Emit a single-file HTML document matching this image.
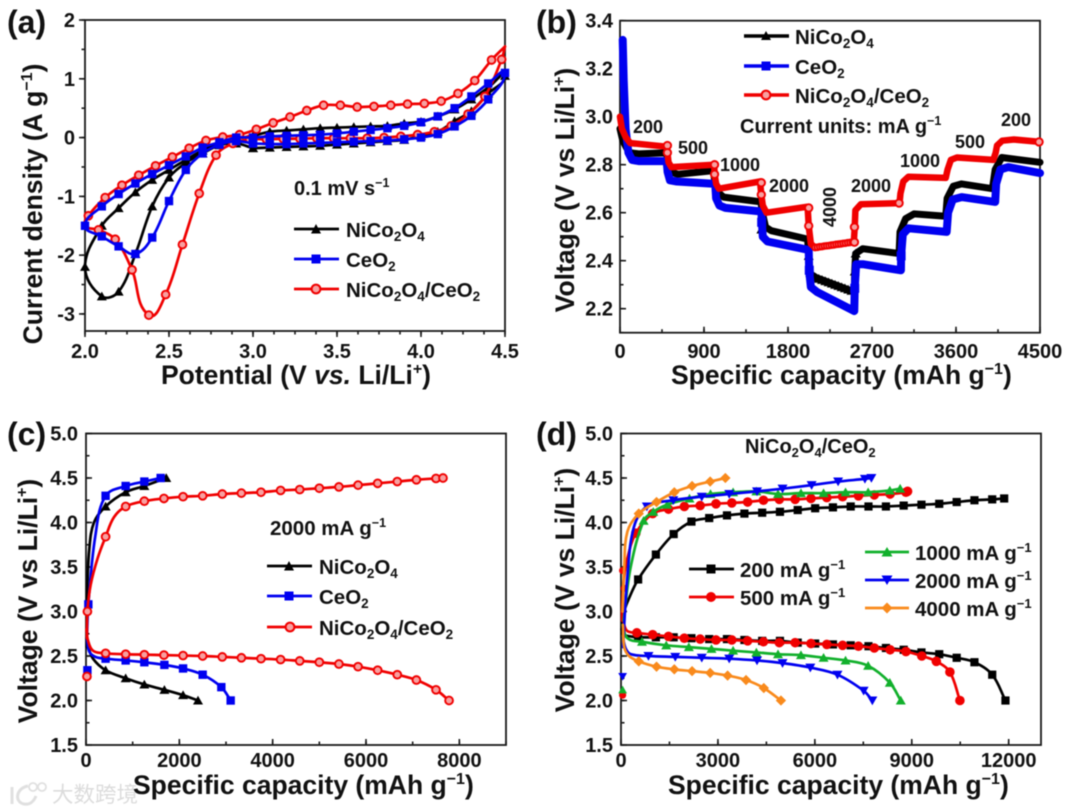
<!DOCTYPE html>
<html lang="en">
<head>
<meta charset="utf-8">
<title>NiCo2O4/CeO2 electrochemical performance</title>
<style>
html,body{margin:0;padding:0;background:#fff;}
svg{display:block;filter:blur(0.5px);}
text{font-family:"Liberation Sans","Noto Sans CJK SC",sans-serif;font-weight:bold;fill:#111;}
</style>
</head>
<body>
<svg id="fig" xmlns="http://www.w3.org/2000/svg" width="1080" height="812" viewBox="0 0 1080 812">
  <rect x="0" y="0" width="1080" height="812" fill="#ffffff"/>

  <g>
    <path d="M12 787 L12 804 M28 786 C16 788 14 802 24 804 C30 805 34 801 36 796" fill="none" stroke="#e0e0e0" stroke-width="3"/>
    <circle cx="33" cy="787" r="4" fill="none" stroke="#e0e0e0" stroke-width="1.8"/>
    <circle cx="42" cy="787" r="4" fill="none" stroke="#e0e0e0" stroke-width="1.8"/>
    <text x="52" y="802" font-size="21.5" style="fill:#dcdcdc;font-weight:normal">大数跨境</text>
  </g>

  <g id="panel-a">
    <text x="7" y="33" font-size="32">(a)</text>
    <text transform="translate(42,204) rotate(-90)" text-anchor="middle" font-size="26.5">Current density (A g<tspan dy="-10" font-size="16">−1</tspan><tspan dy="10">)</tspan></text>
    <text x="161" y="384" font-size="26.5">Potential (V <tspan font-style="italic">vs.</tspan> Li/Li<tspan dy="-10" font-size="16">+</tspan><tspan dy="10">)</tspan></text>
    <text x="294" y="195" font-size="20">0.1 mV s<tspan dy="-8" font-size="12.5">−1</tspan></text>
    <g>
      <line x1="294" x2="339" y1="229" y2="229" stroke="#000" stroke-width="2.8"/>
      <polygon points="311,233.5 316,224 321,233.5" fill="#000"/>
      <text x="346" y="237" font-size="20.5">NiCo<tspan dy="4" font-size="13.5">2</tspan><tspan dy="-4">O</tspan><tspan dy="4" font-size="13.5">4</tspan></text>
      <line x1="294" x2="339" y1="259" y2="259" stroke="#0000f0" stroke-width="2.8"/>
      <rect x="311.5" y="254.5" width="9" height="9" fill="#0000f0"/>
      <text x="346" y="267" font-size="20.5">CeO<tspan dy="4" font-size="13.5">2</tspan></text>
      <line x1="294" x2="339" y1="289" y2="289" stroke="#f00000" stroke-width="2.8"/>
      <circle cx="316" cy="289" r="4.4" fill="#f7a0a0" stroke="#f00000" stroke-width="2"/>
      <text x="346" y="297" font-size="20.5">NiCo<tspan dy="4" font-size="13.5">2</tspan><tspan dy="-4">O</tspan><tspan dy="4" font-size="13.5">4</tspan><tspan dy="-4">/CeO</tspan><tspan dy="4" font-size="13.5">2</tspan></text>
    </g>
  </g>

  <g id="panel-b">
    <text x="536" y="33" font-size="32">(b)</text>
    <text transform="translate(574,190) rotate(-90)" text-anchor="middle" font-size="26.5">Voltage (V vs Li/Li<tspan dy="-10" font-size="16">+</tspan><tspan dy="10">)</tspan></text>
    <text x="671" y="384" font-size="26.5">Specific capacity (mAh g<tspan dy="-10" font-size="16">−1</tspan><tspan dy="10">)</tspan></text>
    <g>
      <line x1="744" x2="789" y1="36" y2="36" stroke="#000" stroke-width="3.5"/>
      <polygon points="761,40 766,31 771,40" fill="#000"/>
      <text x="795" y="44" font-size="20.5">NiCo<tspan dy="4" font-size="13.5">2</tspan><tspan dy="-4">O</tspan><tspan dy="4" font-size="13.5">4</tspan></text>
      <line x1="744" x2="789" y1="66" y2="66" stroke="#0000f0" stroke-width="3.5"/>
      <rect x="761.5" y="61.5" width="9" height="9" fill="#0000f0"/>
      <text x="795" y="74" font-size="20.5">CeO<tspan dy="4" font-size="13.5">2</tspan></text>
      <line x1="744" x2="789" y1="95" y2="95" stroke="#f00000" stroke-width="3.5"/>
      <circle cx="766" cy="95" r="4.4" fill="#f7a0a0" stroke="#f00000" stroke-width="2"/>
      <text x="795" y="103" font-size="20.5">NiCo<tspan dy="4" font-size="13.5">2</tspan><tspan dy="-4">O</tspan><tspan dy="4" font-size="13.5">4</tspan><tspan dy="-4">/CeO</tspan><tspan dy="4" font-size="13.5">2</tspan></text>
    </g>
    <text x="740" y="133" font-size="20">Current units: mA g<tspan dy="-8" font-size="12.5">−1</tspan></text>
    <text x="633" y="133" font-size="18">200</text>
    <text x="678" y="154" font-size="18">500</text>
    <text x="720" y="171" font-size="18">1000</text>
    <text x="769" y="192" font-size="18">2000</text>
    <text transform="translate(836,207) rotate(-90)" text-anchor="middle" font-size="18">4000</text>
    <text x="851" y="192" font-size="18">2000</text>
    <text x="900" y="167" font-size="18">1000</text>
    <text x="955" y="148" font-size="18">500</text>
    <text x="1001" y="126" font-size="18">200</text>
  </g>

  <g id="panel-c">
    <text x="7" y="445" font-size="32">(c)</text>
    <text transform="translate(37,601) rotate(-90)" text-anchor="middle" font-size="26.5">Voltage (V vs Li/Li<tspan dy="-10" font-size="16">+</tspan><tspan dy="10">)</tspan></text>
    <text x="133" y="794" font-size="26.5">Specific capacity (mAh g<tspan dy="-10" font-size="16">−1</tspan><tspan dy="10">)</tspan></text>
    <text x="270" y="535" font-size="20.5">2000 mA g<tspan dy="-8" font-size="12.5">−1</tspan></text>
    <g>
      <line x1="267" x2="312" y1="566" y2="566" stroke="#000" stroke-width="2.8"/>
      <polygon points="284,570.5 289,561 294,570.5" fill="#000"/>
      <text x="319" y="574" font-size="20.5">NiCo<tspan dy="4" font-size="13.5">2</tspan><tspan dy="-4">O</tspan><tspan dy="4" font-size="13.5">4</tspan></text>
      <line x1="267" x2="312" y1="596" y2="596" stroke="#0000f0" stroke-width="2.8"/>
      <rect x="284.5" y="591.5" width="9" height="9" fill="#0000f0"/>
      <text x="319" y="604" font-size="20.5">CeO<tspan dy="4" font-size="13.5">2</tspan></text>
      <line x1="267" x2="312" y1="627" y2="627" stroke="#f00000" stroke-width="2.8"/>
      <circle cx="290" cy="627" r="4.4" fill="#f7a0a0" stroke="#f00000" stroke-width="2"/>
      <text x="319" y="635" font-size="20.5">NiCo<tspan dy="4" font-size="13.5">2</tspan><tspan dy="-4">O</tspan><tspan dy="4" font-size="13.5">4</tspan><tspan dy="-4">/CeO</tspan><tspan dy="4" font-size="13.5">2</tspan></text>
    </g>
  </g>

  <g id="panel-d">
    <text x="536" y="445" font-size="32">(d)</text>
    <text transform="translate(574,590) rotate(-90)" text-anchor="middle" font-size="26.5">Voltage (V vs Li/Li<tspan dy="-10" font-size="16">+</tspan><tspan dy="10">)</tspan></text>
    <text x="668" y="794" font-size="26.5">Specific capacity (mAh g<tspan dy="-10" font-size="16">−1</tspan><tspan dy="10">)</tspan></text>
    <text x="745" y="453" font-size="20">NiCo<tspan dy="4" font-size="13">2</tspan><tspan dy="-4">O</tspan><tspan dy="4" font-size="13">4</tspan><tspan dy="-4">/CeO</tspan><tspan dy="4" font-size="13">2</tspan></text>
    <g>
      <line x1="689" x2="734" y1="569" y2="569" stroke="#000" stroke-width="2.8"/>
      <rect x="706.5" y="564.5" width="9" height="9" fill="#000"/>
      <text x="740" y="577" font-size="20.5">200 mA g<tspan dy="-8" font-size="13">−1</tspan></text>
      <line x1="689" x2="734" y1="597" y2="597" stroke="#f00000" stroke-width="2.8"/>
      <circle cx="711" cy="597" r="5" fill="#f00000"/>
      <text x="740" y="605" font-size="20.5">500 mA g<tspan dy="-8" font-size="13">−1</tspan></text>
      <line x1="865" x2="909" y1="552" y2="552" stroke="#12b02c" stroke-width="2.8"/>
      <polygon points="881.5,556.5 887,547 892.5,556.5" fill="#12b02c"/>
      <text x="915" y="560" font-size="20.5">1000 mA g<tspan dy="-8" font-size="13">−1</tspan></text>
      <line x1="865" x2="909" y1="580" y2="580" stroke="#0000f0" stroke-width="2.8"/>
      <polygon points="881.5,575.5 887,585 892.5,575.5" fill="#0000f0"/>
      <text x="915" y="588" font-size="20.5">2000 mA g<tspan dy="-8" font-size="13">−1</tspan></text>
      <line x1="865" x2="909" y1="608" y2="608" stroke="#f98a1c" stroke-width="2.8"/>
      <polygon points="887,602.5 892.5,608 887,613.5 881.5,608" fill="#f98a1c"/>
      <text x="915" y="616" font-size="20.5">4000 mA g<tspan dy="-8" font-size="13">−1</tspan></text>
    </g>
  </g>
</svg>

<script>
// Panel (a) cyclic voltammetry: [potential, current density]
const aNiCo = [[3.0,-0.18],[3.1,-0.17],[3.2,-0.16],[3.3,-0.15],[3.4,-0.14],[3.5,-0.12],[3.6,-0.1],[3.7,-0.08],[3.8,-0.06],[3.9,-0.04],[4.0,0.03],[4.1,0.1],[4.2,0.28],[4.3,0.45],[4.4,0.75],[4.5,1.05],[4.4,0.85],[4.3,0.65],[4.2,0.48],[4.1,0.36],[4.0,0.27],[3.9,0.24],[3.8,0.2],[3.7,0.19],[3.6,0.18],[3.5,0.17],[3.4,0.16],[3.3,0.14],[3.2,0.12],[3.1,0.1],[3.0,0.03],[2.9,-0.02],[2.8,-0.1],[2.7,-0.22],[2.6,-0.38],[2.5,-0.55],[2.4,-0.72],[2.3,-0.93],[2.2,-1.2],[2.1,-1.5],[2.0,-2.2],[2.1,-2.7],[2.2,-2.62],[2.3,-1.98],[2.4,-1.17],[2.5,-0.68],[2.6,-0.43],[2.7,-0.27],[2.8,-0.13],[2.9,-0.1],[3.0,-0.18]];
const aCeO = [[3.0,-0.1],[3.1,-0.11],[3.2,-0.11],[3.3,-0.1],[3.4,-0.09],[3.5,-0.08],[3.6,-0.07],[3.7,-0.06],[3.8,-0.05],[3.9,-0.03],[4.0,0.0],[4.1,0.06],[4.2,0.19],[4.3,0.37],[4.4,0.65],[4.5,1.1],[4.4,0.92],[4.3,0.7],[4.2,0.5],[4.1,0.36],[4.0,0.26],[3.9,0.2],[3.8,0.16],[3.7,0.13],[3.6,0.1],[3.5,0.07],[3.4,0.05],[3.3,0.04],[3.2,0.03],[3.1,0.02],[3.0,0.0],[2.9,0.0],[2.8,-0.08],[2.7,-0.17],[2.6,-0.32],[2.5,-0.47],[2.4,-0.62],[2.3,-0.78],[2.2,-0.96],[2.1,-1.17],[2.0,-1.5],[2.1,-1.68],[2.2,-1.85],[2.3,-1.98],[2.4,-1.7],[2.5,-1.08],[2.6,-0.55],[2.7,-0.27],[2.8,-0.12],[2.9,-0.06],[3.0,-0.1]];
const aComposite = [[4.5,1.55],[4.42,1.32],[4.32,0.97],[4.22,0.75],[4.12,0.62],[4.02,0.58],[3.92,0.57],[3.82,0.55],[3.72,0.53],[3.62,0.52],[3.52,0.55],[3.42,0.55],[3.32,0.46],[3.22,0.35],[3.12,0.25],[3.02,0.14],[2.92,0.05],[2.82,0.01],[2.72,-0.05],[2.62,-0.18],[2.52,-0.33],[2.42,-0.48],[2.32,-0.64],[2.22,-0.81],[2.12,-1.02],[2.02,-1.33],[2.0,-1.5],[2.08,-1.57],[2.18,-1.73],[2.28,-2.25],[2.38,-3.02],[2.48,-2.67],[2.58,-1.82],[2.68,-0.95],[2.78,-0.3],[2.88,-0.1],[2.98,-0.03],[3.08,-0.03],[3.18,-0.02],[3.28,-0.02],[3.38,-0.01],[3.48,-0.01],[3.58,-0.01],[3.68,-0.01],[3.78,0],[3.88,0.02],[3.98,0.05],[4.08,0.1],[4.18,0.2],[4.28,0.4],[4.38,0.7],[4.48,1.33],[4.5,1.55]];
const aXTicks = [2,2.5,3,3.5,4,4.5];
const aXLabels = ['2.0','2.5','3.0','3.5','4.0','4.5'];
const aYTicks = [2,1,0,-1,-2,-3];
const aYLabels = ['2','1','0','-1','-2','-3'];

// Panel (b) rate capability: [capacity, voltage]
const bNiCo = [[0,2.95],[30,2.9],[70,2.87],[110,2.85],[200,2.845],[500,2.85],[515,2.8],[545,2.77],[620,2.76],[1000,2.775],[1020,2.72],[1050,2.685],[1110,2.665],[1510,2.645],[1525,2.6],[1560,2.54],[1620,2.525],[2010,2.49],[2022,2.42],[2040,2.345],[2100,2.33],[2510,2.27],[2515,2.36],[2525,2.43],[2600,2.45],[2990,2.43],[3000,2.52],[3060,2.575],[3150,2.595],[3490,2.585],[3505,2.66],[3570,2.71],[3660,2.72],[3990,2.7],[4020,2.78],[4090,2.83],[4500,2.81]];
const bCeO = [[29,3.32],[40,3.15],[60,2.95],[90,2.85],[130,2.82],[200,2.815],[500,2.815],[510,2.77],[535,2.735],[610,2.73],[1020,2.72],[1030,2.66],[1065,2.63],[1130,2.62],[1515,2.605],[1520,2.56],[1530,2.5],[1580,2.48],[2022,2.445],[2026,2.36],[2045,2.29],[2110,2.27],[2510,2.19],[2515,2.285],[2530,2.385],[2610,2.385],[3010,2.36],[3012,2.42],[3030,2.51],[3090,2.535],[3500,2.52],[3515,2.6],[3565,2.655],[3660,2.665],[4020,2.645],[4030,2.72],[4075,2.78],[4160,2.79],[4500,2.765]];
const bComposite = [[0,3.0],[20,2.95],[60,2.915],[110,2.89],[500,2.875],[508,2.85],[520,2.81],[550,2.79],[1010,2.8],[1013,2.76],[1030,2.72],[1060,2.7],[1500,2.73],[1514,2.675],[1530,2.63],[1570,2.6],[2010,2.625],[2022,2.545],[2045,2.47],[2090,2.455],[2505,2.477],[2515,2.54],[2522,2.61],[2580,2.635],[2995,2.64],[3005,2.68],[3035,2.73],[3090,2.75],[3490,2.745],[3510,2.78],[3545,2.82],[3610,2.83],[4000,2.82],[4025,2.85],[4040,2.88],[4095,2.9],[4220,2.905],[4500,2.895]];
const bCompositeStepMarkers = [[508,2.88],[508,2.85],[1013,2.8],[1013,2.76],[1514,2.725],[1514,2.675],[2022,2.62],[2022,2.545],[2512,2.54],[2512,2.477],[2990,2.64],[4490,2.895]];
const bComposite4000Markers = [[2090,2.455],[2115,2.456],[2140,2.458],[2165,2.459],[2190,2.461],[2215,2.462],[2240,2.463],[2265,2.465],[2290,2.466],[2315,2.468],[2340,2.469],[2365,2.47],[2390,2.472],[2415,2.473],[2440,2.475],[2465,2.476],[2490,2.477]];
const bCeOStepMarkers = [[1518,2.56],[2028,2.36],[2515,2.285],[3012,2.42]];
const bNiCoStepMarkers = [[1040,2.68],[1515,2.53],[2022,2.42],[2040,2.35],[2515,2.355],[2525,2.43],[3000,2.45]];
const bNiCo4000Markers = [[2060,2.335],[2095,2.33],[2130,2.325],[2165,2.32],[2200,2.315],[2235,2.31],[2270,2.305],[2305,2.3],[2340,2.295],[2375,2.29],[2410,2.285],[2445,2.28],[2480,2.275]];
const bXTicks = [0,900,1800,2700,3600,4500];
const bXLabels = ['0','900','1800','2700','3600','4500'];
const bYTicks = [2.2,2.4,2.6,2.8,3.0,3.2,3.4];
const bYLabels = ['2.2','2.4','2.6','2.8','3.0','3.2','3.4'];

// Panel (c) charge/discharge at 2000 mA/g: [capacity, voltage]
const cNiCoCharge = [[15,2.6],[25,3.2],[70,3.7],[170,4.0],[420,4.18],[850,4.34],[1250,4.41],[1720,4.5]];
const cNiCoDischarge = [[10,2.7],[50,2.6],[150,2.47],[420,2.34],[850,2.25],[1250,2.18],[1680,2.12],[2080,2.06],[2400,2.0]];
const cCeOCharge = [[20,2.7],[50,3.08],[200,3.85],[420,4.3],[850,4.41],[1250,4.46],[1600,4.5]];
const cCeODischarge = [[20,2.7],[70,2.55],[200,2.49],[420,2.47],[850,2.45],[1250,2.43],[1680,2.4],[2080,2.36],[2500,2.29],[2900,2.15],[3100,2.0]];
const cCompositeCharge = [[20,2.7],[30,3.0],[100,3.3],[250,3.6],[420,3.84],[600,4.06],[850,4.18],[1250,4.24],[1670,4.27],[2080,4.29],[2500,4.3],[2920,4.32],[3330,4.33],[3750,4.34],[4170,4.36],[4580,4.37],[5000,4.385],[5420,4.4],[5830,4.42],[6250,4.44],[6670,4.46],[7080,4.48],[7500,4.495],[7650,4.5]];
const cCompositeDischarge = [[10,2.8],[40,2.68],[150,2.56],[420,2.53],[850,2.52],[1250,2.515],[1670,2.51],[2080,2.505],[2500,2.5],[2920,2.49],[3330,2.48],[3750,2.47],[4170,2.46],[4580,2.445],[5000,2.43],[5420,2.41],[5830,2.38],[6250,2.34],[6670,2.29],[7080,2.23],[7500,2.12],[7780,2.0]];
const cCeOStartMarkers = [[30,2.34],[50,3.08]];
const cCompositeStartMarkers = [[20,2.27],[30,3.0]];
const cXTicks = [0,2000,4000,6000,8000];
const cXLabels = ['0','2000','4000','6000','8000'];
const cdYTicks = [1.5,2,2.5,3,3.5,4,4.5,5];
const cdYLabels = ['1.5','2.0','2.5','3.0','3.5','4.0','4.5','5.0'];

// Panel (d) composite at multiple rates: [capacity, voltage]
const d200Charge = [[30,2.75],[100,3.0],[250,3.15],[530,3.36],[1080,3.64],[1630,3.87],[2180,4.01],[2730,4.05],[3280,4.08],[3820,4.1],[4370,4.11],[4920,4.12],[5470,4.14],[6010,4.16],[6560,4.17],[7110,4.18],[7660,4.18],[8200,4.18],[8750,4.19],[9300,4.2],[9850,4.21],[10390,4.23],[10940,4.25],[11490,4.26],[11860,4.27]];
const d200Discharge = [[20,2.8],[100,2.74],[300,2.72],[530,2.71],[1080,2.71],[1630,2.71],[2180,2.7],[2730,2.69],[3280,2.69],[3820,2.68],[4370,2.67],[4920,2.67],[5470,2.65],[6010,2.64],[6560,2.63],[7110,2.62],[7660,2.61],[8200,2.59],[8750,2.57],[9300,2.54],[9850,2.52],[10390,2.48],[10940,2.43],[11490,2.29],[11900,2.0]];
const d500Charge = [[30,2.9],[70,3.3],[200,3.6],[460,3.88],[980,4.1],[1470,4.15],[1960,4.18],[2450,4.19],[2940,4.21],[3430,4.22],[3920,4.23],[4410,4.25],[4900,4.26],[5390,4.26],[5880,4.27],[6370,4.28],[6860,4.29],[7350,4.3],[7840,4.31],[8330,4.32],[8820,4.34],[8870,4.35]];
const d500Discharge = [[30,3.0],[100,2.85],[200,2.78],[490,2.76],[980,2.74],[1470,2.72],[1960,2.7],[2450,2.69],[2940,2.68],[3430,2.68],[3920,2.67],[4410,2.66],[4900,2.65],[5390,2.65],[5880,2.64],[6370,2.63],[6860,2.62],[7350,2.61],[7840,2.59],[8330,2.57],[8820,2.55],[9310,2.5],[9760,2.44],[10180,2.32],[10490,2.0]];
const d500StartMarkers = [[50,2.06],[100,3.26],[50,3.46]];
const d1000Charge = [[80,2.9],[300,3.5],[700,4.02],[1000,4.12],[1430,4.2],[2120,4.27],[2770,4.32],[3470,4.34],[4190,4.35],[4860,4.32],[5570,4.33],[6270,4.33],[6950,4.34],[7650,4.34],[8320,4.36],[8640,4.38]];
const d1000Discharge = [[50,2.85],[200,2.7],[650,2.66],[1400,2.62],[2100,2.6],[2800,2.58],[3470,2.56],[4190,2.54],[4860,2.52],[5570,2.51],[6270,2.48],[6950,2.45],[7650,2.39],[8320,2.2],[8660,2.0]];
const d1000StartMarkers = [[50,2.12]];
const d2000Charge = [[60,2.6],[200,3.4],[400,3.95],[800,4.18],[1620,4.25],[2500,4.29],[3350,4.32],[4210,4.35],[5000,4.38],[5900,4.42],[6720,4.46],[7550,4.49],[7750,4.5]];
const d2000Discharge = [[60,2.7],[150,2.58],[300,2.52],[850,2.5],[1680,2.49],[2500,2.48],[3350,2.47],[4210,2.45],[5000,2.42],[5860,2.37],[6700,2.29],[7510,2.11],[7780,2.0]];
const d2000StartMarkers = [[50,2.27]];
const d4000Charge = [[50,3.0],[100,3.5],[200,3.9],[550,4.1],[1100,4.23],[1650,4.34],[2200,4.41],[2760,4.46],[3230,4.5]];
const d4000Discharge = [[60,2.85],[100,2.6],[250,2.5],[550,2.44],[1100,2.38],[1650,2.35],[2200,2.33],[2760,2.31],[3300,2.28],[3870,2.23],[4420,2.14],[4950,2.0]];
const dXTicks = [0,3000,6000,9000,12000];
const dXLabels = ['0','3000','6000','9000','12000'];

const NS = 'http://www.w3.org/2000/svg';
const BLACK = '#000000', BLUE = '#0000f0', RED = '#f00000', GREEN = '#12b02c', ORANGE = '#f98a1c', PINK = '#f7a0a0';
const LW = 2.7;

function node(tag, parent) {
  const e = document.createElementNS(NS, tag);
  parent.appendChild(e);
  return e;
}

function makeAxes(cfg) {
  const g = document.getElementById(cfg.id);
  const sx = v => cfg.x0 + (v - cfg.xmin) / (cfg.xmax - cfg.xmin) * (cfg.x1 - cfg.x0);
  const sy = v => cfg.y1 - (v - cfg.ymin) / (cfg.ymax - cfg.ymin) * (cfg.y1 - cfg.y0);
  const dir = cfg.outward ? 1 : -1;

  function xTick(v, len) {
    const t = node('line', g);
    
    
    t.setAttribute('x1', sx(v)); t.setAttribute('x2', sx(v));
    t.setAttribute('y1', cfg.y1); t.setAttribute('y2', cfg.y1 + dir * len);
    t.setAttribute('stroke', '#1a1a1a'); t.setAttribute('stroke-width', 1.6);
  }
  function yTick(v, len) {
    const t = node('line', g);
    
    
    t.setAttribute('y1', sy(v)); t.setAttribute('y2', sy(v));
    t.setAttribute('x1', cfg.x0); t.setAttribute('x2', cfg.x0 - dir * len);
    t.setAttribute('stroke', '#1a1a1a'); t.setAttribute('stroke-width', 1.6);
  }
  for (let v = cfg.xmin, i = 0; v <= cfg.xmax + 1e-6; i++, v = cfg.xmin + i * cfg.xMinor) xTick(v, 3.5);
  for (let v = cfg.yFirstMinor, i = 0; v <= cfg.ymax + 1e-6; i++, v = cfg.yFirstMinor + i * cfg.yMinor) yTick(v, 3.5);

  cfg.xTicks.forEach((v, i) => {
    xTick(v, 6);
    const t = node('text', g);
    
    
    t.setAttribute('x', sx(v)); t.setAttribute('y', cfg.xLabelY);
    t.setAttribute('text-anchor', 'middle'); t.setAttribute('font-size', 20);
    t.textContent = cfg.xLabels[i];
  });
  cfg.yTicks.forEach((v, i) => {
    yTick(v, 6);
    const t = node('text', g);
    
    
    t.setAttribute('x', cfg.yLabelX); t.setAttribute('y', sy(v) + 7);
    t.setAttribute('text-anchor', 'end'); t.setAttribute('font-size', 20);
    t.textContent = cfg.yLabels[i];
  });
  const box = node('rect', g);
  
  
  box.setAttribute('x', cfg.x0); box.setAttribute('y', cfg.y0);
  box.setAttribute('width', cfg.x1 - cfg.x0); box.setAttribute('height', cfg.y1 - cfg.y0);
  box.setAttribute('fill', 'none'); box.setAttribute('stroke', '#1a1a1a'); box.setAttribute('stroke-width', 1.8);
  return {g, sx, sy};
}

function smoothPath(pts) {
  const unit = (a, b) => {
    const dx = b[0] - a[0], dy = b[1] - a[1], l = Math.hypot(dx, dy) || 1;
    return [dx / l, dy / l];
  };
  let d = 'M' + pts[0][0] + ' ' + pts[0][1];
  for (let i = 0; i < pts.length - 1; i++) {
    const p0 = pts[Math.max(i - 1, 0)], p1 = pts[i], p2 = pts[i + 1], p3 = pts[Math.min(i + 2, pts.length - 1)];
    const len = Math.hypot(p2[0] - p1[0], p2[1] - p1[1]) * 0.35;
    const t1 = unit(p0, p2), t2 = unit(p1, p3);
    d += ' C' + (p1[0] + t1[0] * len) + ' ' + (p1[1] + t1[1] * len) + ' ' + (p2[0] - t2[0] * len) + ' ' + (p2[1] - t2[1] * len) + ' ' + p2[0] + ' ' + p2[1];
  }
  return d;
}

function drawLine(ax, data, color, width, smooth) {
  const pts = data.map(p => [ax.sx(p[0]), ax.sy(p[1])]);
  const path = node('path', ax.g);
  
  
  path.setAttribute('d', smooth ? smoothPath(pts) : 'M' + pts.map(p => p[0] + ' ' + p[1]).join(' L'));
  path.setAttribute('fill', 'none');
  path.setAttribute('stroke', color);
  path.setAttribute('stroke-width', width);
  path.setAttribute('stroke-linejoin', 'round');
  path.setAttribute('stroke-linecap', 'round');
}

function drawMarkers(ax, data, shape, color, fill, s) {
  data.forEach(p => {
    const x = ax.sx(p[0]), y = ax.sy(p[1]);
    let m;
    if (shape === 'circle') {
      m = node('circle', ax.g);
      m.setAttribute('cx', x); m.setAttribute('cy', y); m.setAttribute('r', s);
      m.setAttribute('fill', fill);
      m.setAttribute('stroke', color);
      m.setAttribute('stroke-width', fill === color ? 0 : 1.9);
    } else if (shape === 'square') {
      m = node('rect', ax.g);
      m.setAttribute('x', x - s); m.setAttribute('y', y - s);
      m.setAttribute('width', 2 * s); m.setAttribute('height', 2 * s);
      m.setAttribute('fill', color);
    } else {
      m = node('polygon', ax.g);
      let pp;
      if (shape === 'up') pp = [[x - s, y + s * 0.8], [x, y - s * 0.95], [x + s, y + s * 0.8]];
      else if (shape === 'down') pp = [[x - s, y - s * 0.8], [x, y + s * 0.95], [x + s, y - s * 0.8]];
      else pp = [[x, y - s * 1.15], [x + s * 1.15, y], [x, y + s * 1.15], [x - s * 1.15, y]];
      m.setAttribute('points', pp.map(q => q.join(',')).join(' '));
      m.setAttribute('fill', color);
    }
    
    
  });
}

// Panel (a)
const axA = makeAxes({id:'panel-a', x0:85, x1:505, y0:20, y1:331, xmin:2, xmax:4.5, ymin:-3.29, ymax:2, xMinor:0.125, yMinor:0.5, yFirstMinor:-3,
  xTicks:aXTicks, xLabels:aXLabels, yTicks:aYTicks, yLabels:aYLabels, outward:true, xLabelY:358, yLabelX:75});
drawLine(axA, aNiCo, BLACK, LW, true);
drawMarkers(axA, aNiCo, 'up', BLACK, BLACK, 5);
drawLine(axA, aComposite, RED, LW, true);
drawMarkers(axA, aComposite.filter(p => p[0] !== 2 && p[0] !== 4.5), 'circle', RED, PINK, 3.9);
drawLine(axA, aCeO, BLUE, LW, true);
drawMarkers(axA, aCeO, 'square', BLUE, BLUE, 4.2);

// Panel (b)
const axB = makeAxes({id:'panel-b', x0:620, x1:1040, y0:20.7, y1:332.7, xmin:0, xmax:4500, ymin:2.1, ymax:3.4, xMinor:450, yMinor:0.1, yFirstMinor:2.1,
  xTicks:bXTicks, xLabels:bXLabels, yTicks:bYTicks, yLabels:bYLabels, outward:false, xLabelY:358, yLabelX:613});
drawLine(axB, bNiCo, BLACK, 7, false);
drawMarkers(axB, bNiCoStepMarkers, 'up', BLACK, BLACK, 5);
drawMarkers(axB, bNiCo4000Markers, 'up', BLACK, BLACK, 5);
drawLine(axB, bCeO, BLUE, 8, false);
drawMarkers(axB, bCeOStepMarkers, 'square', BLUE, BLUE, 4.5);
drawLine(axB, bComposite, RED, 6.5, false);
drawMarkers(axB, bComposite4000Markers, 'circle', RED, PINK, 2.9);
drawMarkers(axB, bCompositeStepMarkers, 'circle', RED, PINK, 3.7);

// Panel (c)
const axC = makeAxes({id:'panel-c', x0:86, x1:506, y0:433.5, y1:745, xmin:0, xmax:9000, ymin:1.5, ymax:5, xMinor:1000, yMinor:0.25, yFirstMinor:1.5,
  xTicks:cXTicks, xLabels:cXLabels, yTicks:cdYTicks, yLabels:cdYLabels, outward:false, xLabelY:767, yLabelX:78});
drawLine(axC, cNiCoCharge, BLACK, LW, true);
drawLine(axC, cNiCoDischarge, BLACK, LW, true);
drawMarkers(axC, cNiCoCharge.filter(p => p[0] >= 400), 'up', BLACK, BLACK, 5);
drawMarkers(axC, cNiCoDischarge.filter(p => p[0] >= 400), 'up', BLACK, BLACK, 5);
drawLine(axC, cCeOCharge, BLUE, LW, true);
drawLine(axC, cCeODischarge, BLUE, LW, true);
drawMarkers(axC, cCeOCharge.filter(p => p[0] >= 400), 'square', BLUE, BLUE, 4.2);
drawMarkers(axC, cCeODischarge.filter(p => p[0] >= 400), 'square', BLUE, BLUE, 4.2);
drawMarkers(axC, cCeOStartMarkers, 'square', BLUE, BLUE, 4.2);
drawLine(axC, cCompositeCharge, RED, LW, true);
drawLine(axC, cCompositeDischarge, RED, LW, true);
drawMarkers(axC, cCompositeCharge.filter(p => p[0] >= 400 && p[0] !== 600), 'circle', RED, PINK, 3.9);
drawMarkers(axC, cCompositeDischarge.filter(p => p[0] >= 400), 'circle', RED, PINK, 3.9);
drawMarkers(axC, cCompositeStartMarkers, 'circle', RED, PINK, 3.9);

// Panel (d)
const axD = makeAxes({id:'panel-d', x0:621, x1:1041, y0:433.5, y1:745, xmin:0, xmax:13000, ymin:1.5, ymax:5, xMinor:1500, yMinor:0.25, yFirstMinor:1.5,
  xTicks:dXTicks, xLabels:dXLabels, yTicks:cdYTicks, yLabels:cdYLabels, outward:false, xLabelY:767, yLabelX:613});
drawLine(axD, d200Charge, BLACK, LW, true);
drawLine(axD, d200Discharge, BLACK, LW, true);
drawMarkers(axD, d200Charge.filter(p => p[0] >= 500), 'square', BLACK, BLACK, 4.1);
drawMarkers(axD, d200Discharge.filter(p => p[0] >= 500), 'square', BLACK, BLACK, 4.1);
drawLine(axD, d500Charge, RED, LW, true);
drawLine(axD, d500Discharge, RED, LW, true);
drawMarkers(axD, d500Charge.filter(p => p[0] >= 450), 'circle', RED, RED, 4.8);
drawMarkers(axD, d500Discharge.filter(p => p[0] >= 450), 'circle', RED, RED, 4.8);
drawMarkers(axD, d500StartMarkers, 'circle', RED, RED, 3.6);
drawLine(axD, d1000Charge, GREEN, LW, true);
drawLine(axD, d1000Discharge, GREEN, LW, true);
drawMarkers(axD, d1000Charge.filter(p => p[0] >= 650), 'up', GREEN, GREEN, 5);
drawMarkers(axD, d1000Discharge.filter(p => p[0] >= 650), 'up', GREEN, GREEN, 5);
drawMarkers(axD, d1000StartMarkers, 'up', GREEN, GREEN, 4.4);
drawLine(axD, d2000Charge, BLUE, LW, true);
drawLine(axD, d2000Discharge, BLUE, LW, true);
drawMarkers(axD, d2000Charge.filter(p => p[0] >= 800), 'down', BLUE, BLUE, 5);
drawMarkers(axD, d2000Discharge.filter(p => p[0] >= 800), 'down', BLUE, BLUE, 5);
drawMarkers(axD, d2000StartMarkers, 'down', BLUE, BLUE, 4.4);
drawLine(axD, d4000Charge, ORANGE, LW, true);
drawLine(axD, d4000Discharge, ORANGE, LW, true);
drawMarkers(axD, d4000Charge.filter(p => p[0] >= 500), 'diamond', ORANGE, ORANGE, 4.5);
drawMarkers(axD, d4000Discharge.filter(p => p[0] >= 500), 'diamond', ORANGE, ORANGE, 4.5);
</script>
</body>
</html>
